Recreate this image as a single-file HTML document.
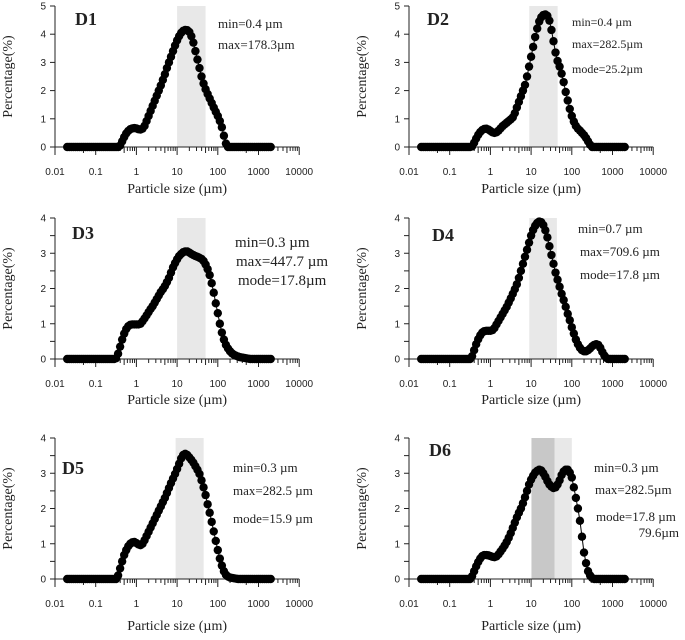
<!DOCTYPE html>
<html><head><meta charset="utf-8"><style>
body{margin:0;background:#fff;width:685px;height:640px;overflow:hidden}
svg{display:block}
.tk{font-family:"Liberation Sans",sans-serif;font-size:10px;fill:#222}
.sr{font-family:"Liberation Serif",serif;fill:#222}
</style></head><body>
<svg id="c" width="685" height="640"></svg>
<script>
// size bins: log10(µm) from -1.7 (0.02 µm) to 3.3 (2000 µm), step 0.05
const logMin = -1.7, logMax = 3.3, logStep = 0.05;
// each series starts at log10 = -0.5 (0.316 µm); bins outside the listed values are 0
const seriesStartLog = -0.5;
const d1Values=[0,0,0.05,0.2,0.35,0.48,0.57,0.63,0.66,0.67,0.66,0.63,0.62,0.65,0.75,0.92,1.1,1.28,1.46,1.64,1.82,2.0,2.18,2.38,2.58,2.8,3.0,3.2,3.4,3.6,3.78,3.93,4.05,4.12,4.15,4.14,4.08,3.93,3.7,3.4,3.1,2.8,2.5,2.25,2.05,1.88,1.72,1.56,1.4,1.25,1.1,0.92,0.7,0.4,0.12,0];
const d2Values=[0,0.02,0.15,0.3,0.43,0.53,0.6,0.64,0.65,0.62,0.57,0.52,0.5,0.52,0.58,0.66,0.74,0.8,0.86,0.92,0.98,1.05,1.2,1.4,1.6,1.8,2.0,2.2,2.5,2.85,3.2,3.55,3.9,4.2,4.45,4.6,4.68,4.7,4.65,4.48,4.15,3.75,3.35,3.05,2.85,2.6,2.3,1.95,1.65,1.35,1.1,0.9,0.75,0.65,0.58,0.5,0.42,0.32,0.2,0.08,0];
const d3Values=[0.02,0.15,0.35,0.55,0.72,0.85,0.93,0.97,0.98,0.98,0.98,0.98,1.0,1.07,1.15,1.24,1.33,1.42,1.5,1.6,1.7,1.8,1.9,1.98,2.07,2.18,2.3,2.45,2.6,2.72,2.83,2.92,2.98,3.03,3.05,3.05,3.02,2.98,2.95,2.92,2.9,2.87,2.84,2.78,2.68,2.55,2.38,2.15,1.88,1.58,1.3,1.0,0.75,0.55,0.4,0.3,0.22,0.16,0.12,0.09,0.07,0.05,0.04,0.03,0.02,0.01,0];
const d4Values=[0,0.08,0.25,0.42,0.56,0.67,0.75,0.79,0.8,0.8,0.8,0.82,0.88,0.98,1.08,1.18,1.28,1.38,1.48,1.6,1.72,1.85,1.98,2.12,2.3,2.5,2.7,2.9,3.1,3.3,3.5,3.66,3.78,3.86,3.9,3.88,3.8,3.65,3.45,3.2,2.95,2.7,2.45,2.25,2.05,1.85,1.67,1.48,1.28,1.1,0.9,0.72,0.55,0.42,0.32,0.25,0.22,0.22,0.25,0.3,0.36,0.4,0.42,0.4,0.32,0.2,0.1,0.03,0];
const d5Values=[0,0.1,0.3,0.5,0.68,0.82,0.93,1.0,1.04,1.05,1.02,0.98,0.96,1.0,1.1,1.22,1.34,1.46,1.58,1.7,1.82,1.94,2.06,2.18,2.3,2.44,2.58,2.72,2.85,2.98,3.12,3.27,3.42,3.52,3.55,3.52,3.45,3.38,3.3,3.2,3.1,2.98,2.8,2.6,2.38,2.12,1.88,1.62,1.35,1.08,0.82,0.58,0.38,0.22,0.12,0.07,0.04,0.03,0.02,0.01,0];
const d6Values=[0,0.08,0.22,0.36,0.48,0.58,0.65,0.68,0.68,0.67,0.65,0.63,0.62,0.64,0.7,0.78,0.86,0.95,1.05,1.17,1.3,1.45,1.6,1.75,1.88,2.0,2.15,2.32,2.5,2.68,2.82,2.93,3.02,3.07,3.1,3.08,3.0,2.9,2.78,2.68,2.62,2.58,2.6,2.68,2.8,2.95,3.05,3.1,3.1,3.02,2.88,2.6,2.3,2.0,1.65,1.2,0.75,0.45,0.22,0.1,0.03,0];
const xTickLabels=["0.01","0.1","1","10","100","1000","10000"];
const panels=[
 {id:"d1",vals:d1Values,ymax:5,x0:55,y0:147,ytop:6,shade:[[10,50,"#e8e8e8"]],title:"D1",tx:75,ty:25,
  notes:[["min=0.4 µm",218,28],["max=178.3µm",218,49]],fs:13,half:false,tl:175,xt:193},
 {id:"d2",vals:d2Values,ymax:5,x0:409,y0:147,ytop:6,shade:[[9,45,"#e8e8e8"]],title:"D2",tx:427,ty:25,
  notes:[["min=0.4 µm",572,26],["max=282.5µm",572,48],["mode=25.2µm",572,73]],fs:12,half:false,tl:175,xt:193},
 {id:"d3",vals:d3Values,ymax:4,x0:55,y0:359,ytop:218,shade:[[10,50,"#e8e8e8"]],title:"D3",tx:72,ty:239,
  notes:[["min=0.3 µm",235,247],["max=447.7 µm",236,266],["mode=17.8µm",238,285]],fs:15,half:true,tl:387,xt:404},
 {id:"d4",vals:d4Values,ymax:4,x0:409,y0:359,ytop:218,shade:[[9,43,"#e8e8e8"]],title:"D4",tx:432,ty:241,
  notes:[["min=0.7 µm",578,233],["max=709.6 µm",580,256],["mode=17.8 µm",580,279]],fs:13,half:true,tl:387,xt:404},
 {id:"d5",vals:d5Values,ymax:4,x0:55,y0:579,ytop:438,shade:[[9.2,45,"#e8e8e8"]],title:"D5",tx:62,ty:474,
  notes:[["min=0.3 µm",233,472],["max=282.5 µm",233,495],["mode=15.9 µm",233,523]],fs:13,half:true,tl:607,xt:630},
 {id:"d6",vals:d6Values,ymax:4,x0:409,y0:579,ytop:438,shade:[[10.2,38,"#c8c8c8"],[38,100,"#e8e8e8"]],title:"D6",tx:429,ty:456,
  notes:[["min=0.3 µm",594,472],["max=282.5µm",595,494],["mode=17.8 µm",596,521]],fs:13,half:true,tl:607,xt:630,extra:["79.6µm",679,537]}
];
const NS="http://www.w3.org/2000/svg";
const svg=document.getElementById("c");
function mk(t,a,p){const e=document.createElementNS(NS,t);for(const k in a)e.setAttribute(k,a[k]);(p||svg).appendChild(e);return e;}
const DEC=40.7;
const nBins=Math.round((logMax-logMin)/logStep)+1;
const startIdx=Math.round((seriesStartLog-logMin)/logStep);
panels.forEach(p=>{
 const g=mk("g",{});
 
 
 const xs=v=>p.x0+(Math.log10(v)+2)*DEC;
 const ys=v=>p.y0-(v/p.ymax)*(p.y0-p.ytop);
 p.shade.forEach(s=>{const r=mk("rect",{x:xs(s[0]),y:p.ytop,width:xs(s[1])-xs(s[0]),height:p.y0-p.ytop,fill:s[2]},g);
  });
 const ax=mk("path",{d:`M${p.x0},${p.ytop}V${p.y0}H${p.x0+6*DEC}`,stroke:"#222","stroke-width":1,fill:"none"},g);
 
 for(let v=0;v<=p.ymax;v+=(p.half?0.5:1)){
  const y=ys(v);mk("line",{x1:p.x0-5,x2:p.x0,y1:y,y2:y,stroke:"#222"},g);
  if(Number.isInteger(v)){const t=mk("text",{x:p.x0-9,y:y+3.5,"text-anchor":"end",class:"tk"},g);t.textContent=v;
   }
 }
 for(let d=-2;d<=4;d++){
  const x=xs(Math.pow(10,d));
  mk("line",{x1:x,x2:x,y1:p.y0,y2:p.y0+8,stroke:"#222"},g);
  const t=mk("text",{x:x,y:p.tl,"text-anchor":"middle",class:"tk"},g);t.textContent=xTickLabels[d+2];
  
  if(d<4)for(let m=2;m<=9;m++){const xm=xs(m*Math.pow(10,d));mk("line",{x1:xm,x2:xm,y1:p.y0,y2:p.y0+(m==5?6:4),stroke:"#222"},g);}
 }
 const xl=mk("text",{x:p.x0+3*DEC,y:p.xt,"text-anchor":"middle",class:"sr","font-size":14},g);xl.textContent="Particle size (µm)";
 
 const yc=(p.y0+p.ytop)/2, yx=p.x0-43;
 const yl=mk("text",{x:yx,y:yc,"text-anchor":"middle",class:"sr","font-size":14,transform:`rotate(-90 ${yx} ${yc})`},g);yl.textContent="Percentage(%)";
 
 const pts=[];
 for(let i=0;i<nBins;i++){
  const k=i-startIdx;
  const v=(k>=0&&k<p.vals.length)?p.vals[k]:0;
  pts.push([xs(Math.pow(10,logMin+i*logStep)),ys(v)]);
 }
 mk("polyline",{points:pts.map(q=>q.join(",")).join(" "),fill:"none",stroke:"#000","stroke-width":1},g);
 pts.forEach(q=>{const c=mk("circle",{cx:q[0],cy:q[1],r:4.2,fill:"#000"},g);
  });
 const tt=mk("text",{x:p.tx,y:p.ty,class:"sr","font-size":18,"font-weight":"bold"},g);tt.textContent=p.title;
 
 p.notes.forEach(n=>{const t=mk("text",{x:n[1],y:n[2],class:"sr","font-size":p.fs},g);t.textContent=n[0];
  });
 if(p.extra){const t=mk("text",{x:p.extra[1],y:p.extra[2],class:"sr","font-size":p.fs,"text-anchor":"end"},g);t.textContent=p.extra[0];
  }
});
</script>
</body></html>
